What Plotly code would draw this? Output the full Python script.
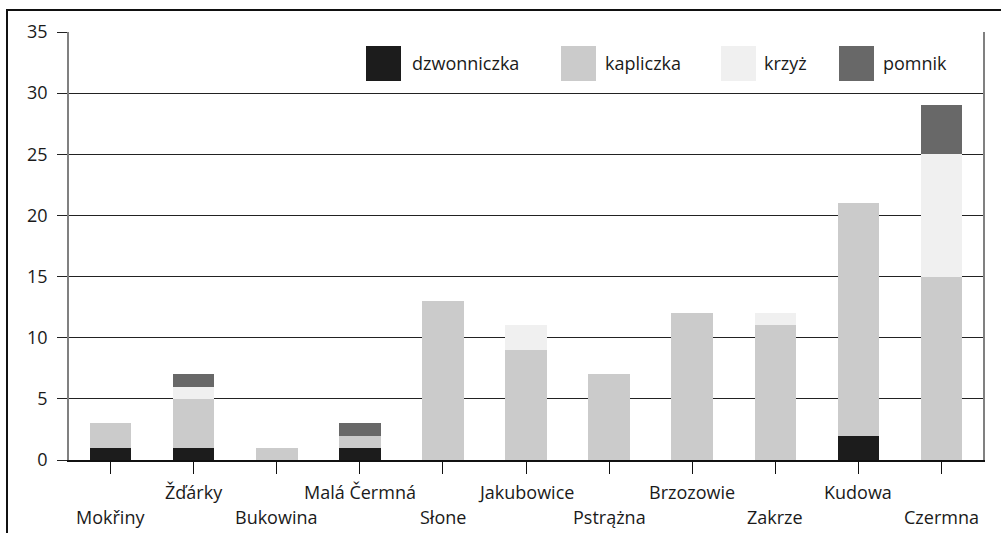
import plotly.graph_objects as go

VILLAGES = ["Mokřiny", "Žďárky", "Bukowina", "Malá Čermná", "Słone", "Jakubowice",
            "Pstrążna", "Brzozowie", "Zakrze", "Kudowa", "Czermna"]
DZWONNICZKA = [1, 1, 0, 1, 0, 0, 0, 0, 0, 2, 0]
KAPLICZKA = [2, 4, 1, 1, 13, 9, 7, 12, 11, 19, 15]
KRZYZ = [0, 1, 0, 0, 0, 2, 0, 0, 1, 0, 10]
POMNIK = [0, 1, 0, 1, 0, 0, 0, 0, 0, 0, 4]

SERIES = [
    ("dzwonniczka", DZWONNICZKA, "#1c1c1c"),
    ("kapliczka", KAPLICZKA, "#cbcbcb"),
    ("krzyż", KRZYZ, "#f0f0f0"),
    ("pomnik", POMNIK, "#686868"),
]

W, H = 1001, 533
L, R, T, B = 69, 18, 32, 73
PW, PH = W - L - R, H - T - B
FONT = "Open Sans, Noto Sans, sans-serif"


def px(x):
    return (x - L) / PW


def py(y):
    return (H - B - y) / PH


fig = go.Figure()
for name, vals, color in SERIES:
    fig.add_trace(go.Bar(x=VILLAGES, y=vals, name=name, marker_color=color,
                         marker_line_width=0, showlegend=False))

# staggered category labels
annotations = []
for i, v in enumerate(VILLAGES):
    annotations.append(dict(
        x=v, xref="x", y=py(517 if i % 2 == 0 else 492), yref="paper",
        text=v, showarrow=False, xanchor="center", yanchor="middle",
        font=dict(size=18, color="#1a1a1a"),
    ))

# hand-made legend with large swatches
shapes = []
legend_x = [(366, 410), (561, 603), (721, 762), (839, 881)]
for (name, _, color), (sx, tx) in zip(SERIES, legend_x):
    shapes.append(dict(type="rect", xref="paper", yref="paper",
                       x0=px(sx), x1=px(sx + 35), y0=py(81), y1=py(46),
                       fillcolor=color, line_width=0))
    annotations.append(dict(x=px(tx), y=py(63), xref="paper", yref="paper",
                            text=name, showarrow=False, xanchor="left",
                            yanchor="middle", font=dict(size=18, color="#1a1a1a")))

# outer frame
shapes.append(dict(type="line", xref="paper", yref="paper", x0=px(6), x1=px(1001),
                   y0=py(10), y1=py(10), line=dict(color="#111", width=2)))
shapes.append(dict(type="line", xref="paper", yref="paper", x0=px(7), x1=px(7),
                   y0=py(10), y1=py(540), line=dict(color="#111", width=2)))

fig.update_layout(
    barmode="stack",
    bargap=0.5,
    width=W,
    height=H,
    margin=dict(l=L, r=R, t=T, b=B),
    paper_bgcolor="white",
    plot_bgcolor="white",
    font=dict(family=FONT, size=18, color="#1a1a1a"),
    showlegend=False,
    shapes=shapes,
    annotations=annotations,
)
fig.update_xaxes(
    showticklabels=False, ticks="outside", ticklen=12, tickcolor="#111",
    showline=True, linecolor="#111", linewidth=1.5, showgrid=False,
)
fig.update_yaxes(
    range=[0, 35], dtick=5, showgrid=True, gridcolor="#222", gridwidth=1,
    zeroline=False, ticks="outside", ticklen=10, tickcolor="#222",
    showline=True, linecolor="#808080", linewidth=1.5, mirror=True,
    ticklabelstandoff=6, tickfont=dict(size=18, color="#1a1a1a"),
)

fig.write_html("out.html", config={"displayModeBar": False},
               post_script="document.body.style.margin='0';")
